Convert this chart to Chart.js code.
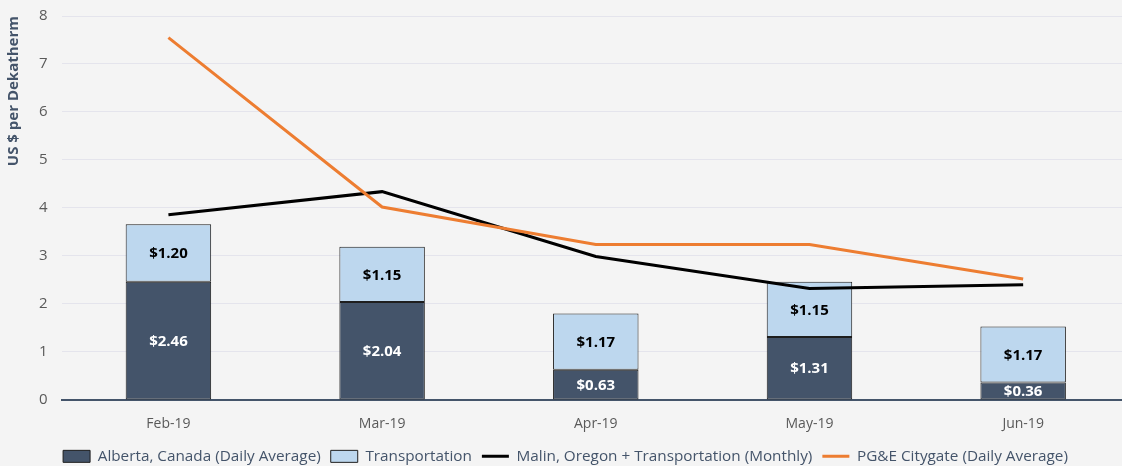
<!DOCTYPE html>
<html>
<head>
<meta charset="utf-8">
<script src="https://cdn.jsdelivr.net/npm/chart.js@4/dist/chart.umd.min.js"></script>
<style>
  html, body { margin:0; padding:0; background:#f4f4f4; overflow:hidden; }
  #wrap { width:1130px; height:481px; margin-top:-7px; }
</style>
</head>
<body>
<div id="wrap"><canvas id="chart" width="1130" height="481"></canvas></div>
<script>
// chart data
const months = ['Feb-19', 'Mar-19', 'Apr-19', 'May-19', 'Jun-19'];
const alberta = [2.46, 2.04, 0.63, 1.31, 0.36];
const transport = [1.20, 1.15, 1.17, 1.15, 1.17];
const malin = [3.86, 4.34, 2.99, 2.32, 2.40];
const pge = [7.55, 4.02, 3.24, 3.24, 2.52];
const yTicks = [0, 1, 2, 3, 4, 5, 6, 7, 8];

const FONT = "'Open Sans', 'Noto Sans', sans-serif";

// draws the $ values inside the stacked bars
const barLabels = {
  id: 'barLabels',
  afterDatasetsDraw(chart){
    const ctx = chart.ctx;
    ctx.save();
    ctx.font = 'bold 15px ' + FONT;
    ctx.textAlign = 'center';
    ctx.textBaseline = 'middle';
    chart.data.datasets.forEach((ds, i)=>{
      if(ds.type !== 'bar') return;
      chart.getDatasetMeta(i).data.forEach((bar, j)=>{
        const c = bar.getCenterPoint();
        ctx.fillStyle = ds.labelColor;
        ctx.fillText('$' + ds.data[j].toFixed(2), c.x, c.y + 1);
      });
    });
    ctx.restore();
  }
};

new Chart(document.getElementById('chart'), {
  data: {
    labels: months,
    datasets: [
      {type:'bar', label:'Alberta, Canada (Daily Average)', data:alberta, backgroundColor:'#44546a',
        borderColor:'#1e1e1e', borderWidth:1, borderSkipped:false, stack:'bars', order:2, labelColor:'#ffffff', pointStyle:'rect'},
      {type:'bar', label:'Transportation', data:transport, backgroundColor:'#bdd7ee',
        borderColor:'#1e1e1e', borderWidth:1, borderSkipped:false, stack:'bars', order:2, labelColor:'#000000', pointStyle:'rect'},
      {type:'line', label:'Malin, Oregon + Transportation (Monthly)', data:malin, borderColor:'#000000',
        backgroundColor:'#000000', borderWidth:3, pointRadius:0, tension:0, order:1, stack:'malin', pointStyle:'line'},
      {type:'line', label:'PG&E Citygate (Daily Average)', data:pge, borderColor:'#ed7d31',
        backgroundColor:'#ed7d31', borderWidth:3, pointRadius:0, tension:0, order:0, stack:'pge', pointStyle:'line'}
    ]
  },
  options: {
    responsive:false,
    animation:false,
    layout:{padding:{top:0, right:0, left:1, bottom:0}},
    datasets:{bar:{categoryPercentage:1, barPercentage:0.40}},
    plugins:{
      legend:{
        position:'bottom',
        labels:{
          usePointStyle:true, pointStyleWidth:27, boxHeight:12, padding:10,
          color:'#44546a', font:{family:FONT, size:15.3},
          sort:(a, b)=>a.datasetIndex - b.datasetIndex
        }
      },
      tooltip:{enabled:false}
    },
    scales:{
      x:{
        stacked:true,
        grid:{display:false},
        border:{display:true, color:'#44546a', width:2},
        ticks:{color:'#595959', font:{family:FONT, size:14}, padding:8},
        afterFit(scale){ scale.height -= 2; }
      },
      y:{
        stacked:true,
        min:0, max:8,
        afterBuildTicks(axis){ axis.ticks = yTicks.map(v=>({value:v})); },
        grid:{color:'#e4e4ec', drawTicks:false},
        border:{display:false},
        ticks:{color:'#595959', font:{family:FONT, size:15}, padding:14},
        title:{display:true, text:'US $ per Dekatherm', align:'end', color:'#44546a',
          font:{family:FONT, size:15, weight:'bold'}, padding:{bottom:2}}
      }
    }
  },
  plugins:[barLabels]
});
</script>
</body>
</html>
